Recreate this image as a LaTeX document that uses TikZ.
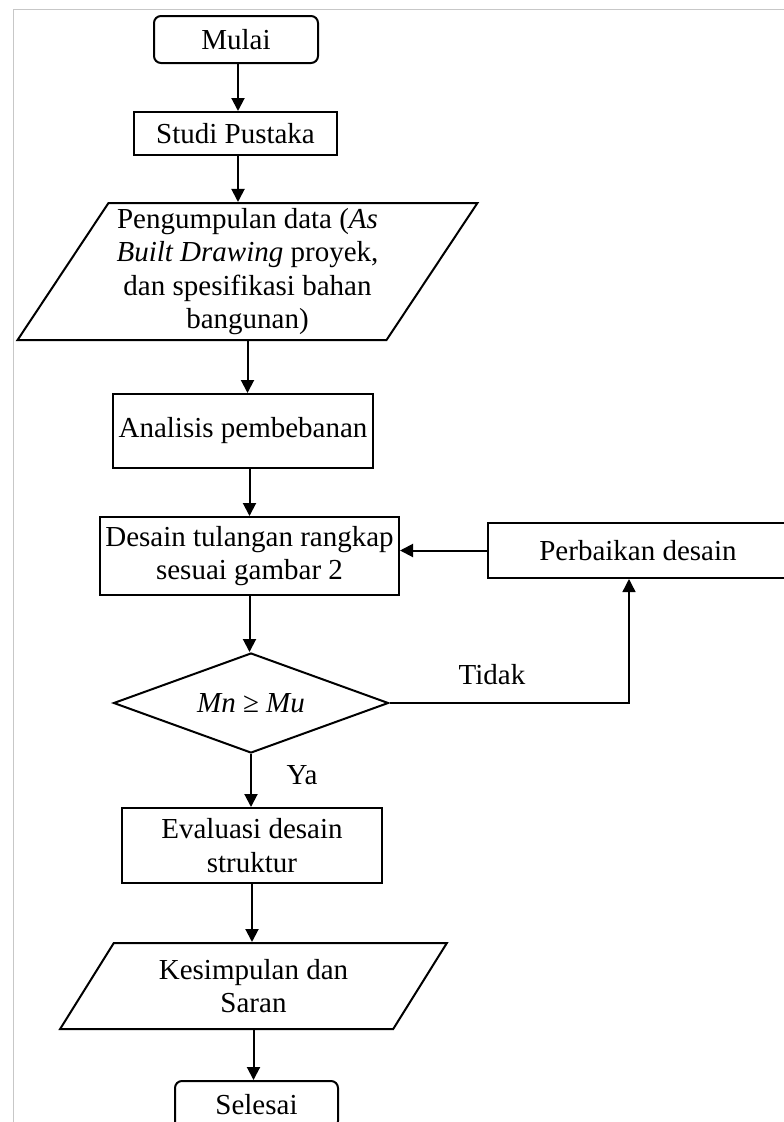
\documentclass[tikz,border=0pt]{standalone}
\usepackage{fontspec}
\setmainfont{Liberation Serif}
\usetikzlibrary{shapes.geometric,arrows.meta}
\begin{document}
\begin{tikzpicture}[x=1pt,y=-1pt,
  every node/.style={font=\fontsize{29}{33.5}\selectfont, inner sep=0pt, align=center},
  proc/.style={draw, line width=2pt, rectangle},
  term/.style={draw, line width=2pt, rectangle, rounded corners=7pt},
  io/.style={draw, line width=2pt, trapezium, trapezium stretches=true,
    trapezium left angle=56, trapezium right angle=124},
  dec/.style={draw, line width=2pt, diamond, aspect=2.75},
  arr/.style={line width=2pt, -{Triangle[width=13pt,length=13pt]}},
  thinarr/.style={line width=1.4pt, -{Triangle[width=13pt,length=13pt]}},
  frame/.style={draw=black!22, line width=0.8pt}]
\useasboundingbox (0,0) rectangle (784,1122);
\clip (0,0) rectangle (784,1122);
\draw[frame] (13,1122) -- (13,9) -- (784,9);

\node[term, minimum width=164pt, minimum height=47pt] (mulai) at (236,39.5) {Mulai};
\node[proc, minimum width=203pt, minimum height=43pt] (studi) at (235.5,133.5) {Studi Pustaka};
\node[io, minimum width=461pt, minimum height=137pt] (peng) at (247.5,271.5)
  {Pengumpulan data (\textit{As}\\\textit{Built Drawing} proyek,\\dan spesifikasi bahan\\bangunan)};
\node[proc, minimum width=260pt, minimum height=74pt] (ana) at (243,431) {Analisis pembebanan};
\node[proc, minimum width=299pt, minimum height=78pt] (des) at (249.5,556) {Desain tulangan rangkap\\sesuai gambar 2};
\node[proc, minimum width=300pt, minimum height=55pt] (perb) at (638,550.5) {Perbaikan desain};
\node[dec, minimum width=275pt, minimum height=100pt] (dia) at (251,703) {\textit{Mn} ≥ \textit{Mu}};
\node[proc, minimum width=260pt, minimum height=75pt] (eval) at (252,845.5) {Evaluasi desain\\struktur};
\node[io, minimum width=387pt, minimum height=86pt] (kes) at (253.5,986) {Kesimpulan dan\\Saran};
\node[term, minimum width=163pt, minimum height=47pt] (sel) at (256.5,1104.5) {Selesai};
\node (tidak) at (492,675) {Tidak};
\node (ya) at (302,775) {Ya};
\coordinate (turn) at (629,703);

\draw[arr] (mulai.south -| 238,0) -- (studi.north -| 238,0);
\draw[arr] (studi.south -| 238,0) -- (peng.north -| 238,0);
\draw[arr] (peng.center |- peng.south) -- (peng.center |- ana.north);
\draw[arr] (ana.south -| des.north) -- (des.north);
\draw[arr] (des.south) -- (des.south |- dia.north);
\draw[arr] (dia.south) -- (dia.south |- eval.north);
\draw[arr] (eval.south) -- (eval.south |- kes.north);
\draw[arr] (kes.center |- kes.south) -- (kes.center |- sel.north);
\draw[arr] (perb.west) -- (perb.west -| des.east);
\draw[thinarr] (dia.east) -- (turn) -- (turn |- perb.south);
\end{tikzpicture}
\end{document}
